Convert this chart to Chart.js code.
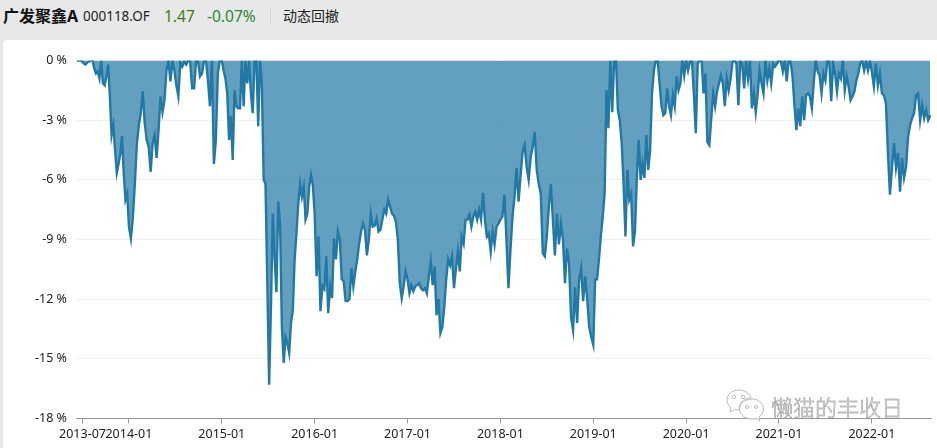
<!DOCTYPE html>
<html>
<head>
<meta charset="utf-8">
<script src="https://cdn.jsdelivr.net/npm/chart.js@4"></script>
<style>
  html, body { margin: 0; padding: 0; width: 937px; height: 448px; overflow: hidden; background: #e8e8e8; }
  body { position: relative; font-family: "Noto Sans", "Noto Sans CJK SC", sans-serif; }
  #head span { position: absolute; top: 5px; line-height: 22px; white-space: nowrap; color: #222; }
  #card { position: absolute; left: 3px; top: 40px; width: 940px; height: 420px; background: #fff; border-radius: 4px; }
  #wrap { position: absolute; left: 0; top: 0; width: 937px; height: 448px; }
  #mark { position: absolute; left: 771px; top: 388px; font: 22px/36px "Noto Sans CJK SC", sans-serif; font-weight: 300; color: #fff;
          -webkit-text-stroke: 0.5px #888; white-space: nowrap; }
  #icon { position: absolute; left: 725px; top: 389px; }
</style>
</head>
<body>
<div id="card"></div>
<div id="head">
  <span style="left:3px;font-size:16px;font-weight:bold;color:#111">广发聚鑫A</span>
  <span style="left:83px;font-size:13.5px">000118.OF</span>
  <span style="left:164px;font-size:15.5px;color:#3d7d16">1.47</span>
  <span style="left:207px;font-size:15.5px;color:#1f8a36">-0.07%</span>
  <span style="left:270px;top:8px;width:1px;height:16px;background:#d4d4d4"></span>
  <span style="left:283px;font-size:14px">动态回撤</span>
</div>
<div id="wrap"><canvas id="chart" width="937" height="448"></canvas></div>
<svg id="icon" width="40" height="34" viewBox="0 0 40 34" fill="#fff" stroke="#aaa" stroke-width="0.8">
  <path d="M14 1C7 1 2 5.500 2 11c0 3 1.500 5.500 4 7.500L5 23l5-2.500c1.500.4 3 .6 4.500.5C13 14 19 9 26 9 24.500 4.500 20 1 14 1z"/>
  <path d="M27 10c-7 0-12.500 4.500-12.500 10S20 30 27 30c1.500 0 2.500-.2 4-.6l4 2.600-1-4c3-2 4.500-4.800 4.500-8C38.500 14.500 33.500 10 27 10z"/>
  <circle cx="9" cy="8" r="1.700"/><circle cx="18" cy="8" r="1.700"/>
  <circle cx="22" cy="18" r="1.500"/><circle cx="31" cy="18" r="1.500"/>
</svg>
<div id="mark">懒猫的丰收日</div>
<script>
// drawdown in %, one list per calendar year
var dd2013 = [0,0,0,-0.05,-0.15,-0.2,-0.1,-0.05,0,0,-0.4,-0.65,-0.55,-0.9,0,-1.15,-1.25,-0.8,-0.2,-1.8,-3.75,-3.25,-4.5,-5.65,-5.2,-4.7,-3.8,-5.65,-7,-6.7];
var dd2014 = [-8.35,-8.95,-7.85,-6.2,-4.2,-3.25,-2.65,-1.55,-3.15,-4,-4.35,-5.6,-4.15,-3.75,-4.9,-3.5,-1.8,-2.6,-2,-0.5,0,-1.05,-0.05,-0.5,-1.25,-1.8,-0.1,-0.3,-0.05,-0.2,0,-0.05,-1.4,-1.4,0,-0.05,-0.8,-0.65,0,0,-1,-2.3,0,-5.2,-4,-0.65,0];
var dd2015 = [0,-0.5,-0.9,-1.65,-4,-2.8,-5,-1.5,-2.3,-2.4,-2.4,0,-2.3,0,-1.15,0,-1.65,-2.65,0,0,-3.3,0,-1.15,-6,-6.2,-11.2,-16.3,-12.4,-7.7,-9.9,-11.65,-7.1,-8.2,-13.4,-15.2,-13.9,-14.2,-14.7,-13.2,-12.55,-10,-8.7,-7.2,-6.2,-6.85,-6.35,-8,-7.7,-6.35,-5.75,-6.25];
var dd2016 = [-7.7,-10.85,-8.85,-12.6,-11.35,-11.5,-9.85,-12.7,-11.35,-11.95,-8.95,-10,-8.6,-9,-11,-11.1,-12.1,-12.1,-12,-10.45,-11.35,-10.6,-10,-9.2,-8.6,-8.2,-8.5,-9.8,-9,-7.7,-8.35,-8.3,-7.95,-8.6,-8.5,-8,-7.5,-7.7,-7,-7.35,-7.7,-7.8,-8.1,-9,-11.2,-11.95,-11.35,-10.6];
var dd2017 = [-11,-11.7,-11.3,-11.6,-11.35,-11.3,-11.2,-11.45,-11.55,-11.45,-11.7,-10.85,-10.1,-11.3,-10.35,-12.8,-12,-13.7,-13.4,-12.4,-11,-10,-10.3,-9.85,-11.45,-10.5,-9.6,-10.6,-8.85,-9.2,-8,-8,-7.75,-8.35,-7.85,-7.6,-8,-7.5,-8,-6.65,-8,-8.85,-8.7,-9.6,-8.6,-9.25,-8.35,-8.2];
var dd2018 = [-8,-7.85,-6.75,-9,-11.45,-9.5,-7.85,-6.85,-5.4,-7.1,-5.8,-4.6,-4.25,-5.35,-6,-4.85,-4.35,-3.6,-5.5,-6.2,-6.7,-9.7,-9.85,-8.85,-7.35,-6.2,-8,-9.8,-7.7,-9.25,-8.2,-9,-11.2,-9.45,-10.2,-12.9,-13.55,-11.4,-13.2,-11,-10.45,-12.1,-10.85,-12,-13.4,-13.9];
var dd2019 = [-14.3,-11,-11,-10,-8.85,-7.85,-6.7,-1.5,-3.4,0,-2.6,-0.05,0,-2.5,-3,-4.15,-6.2,-8.85,-5.5,-7,-6.7,-9.35,-8.6,-5.9,-4,-6,-5.2,-5.9,-3.75,-5.5,-4.5,-1.65,-0.5,0,0,-1.15,-2.25,-2.75,-2.65,-1.4,-2.3,-2.75,-1.75,-2.3,-0.8,-1.5,-1.15,0,-0.75];
var dd2020 = [0,-0.5,-0.05,0,-1.65,-3.65,-0.15,0,0,-1.65,-0.65,-4.1,-4.25,-2.9,-1.65,-2.3,-1.55,-1.15,-0.75,-1.15,-2.3,-0.9,-1.5,-0.9,-0.05,0,-0.15,-2.25,-0.05,-0.15,-1.4,0,-0.9,0,-2.4,-1.65,-2.6,-1.65,-0.5,-1.15,-1.65,0,-1,-0.4,-1.15,-0.15,-0.3,-0.15];
var dd2021 = [0,-0.05,-0.55,0,-1.05,0,-0.05,-0.8,-2.25,-3.5,-2.4,-3.3,-1.8,-3,-1.75,-1.65,-1.8,-2.4,-1.05,0,-0.55,-0.75,-1.65,-0.65,-1,0,-0.05,-2.05,-0.15,-0.65,-1.55,-0.65,-0.9,0,-1.5,-0.8,-1.3,-2,-1.8,-1.55,-1,-0.65,-0.15,0,-0.5,-0.05,-0.5,0];
var dd2022 = [-0.55,-1.3,-0.15,-1.25,-0.65,-1.65,-1.75,-2.15,-4.65,-6.75,-5.4,-4.15,-5.4,-4.65,-6.6,-4.9,-5.9,-5.35,-3.85,-3.25,-2.9,-2.65,-1.75,-1.65,-3,-2.25,-2.9,-2.5,-3,-2.75];

var tickYears = [2013.5, 2014, 2015, 2016, 2017, 2018, 2019, 2020, 2021, 2022];
var tickLabels = ['2013-07', '2014-01', '2015-01', '2016-01', '2017-01', '2018-01', '2019-01', '2020-01', '2021-01', '2022-01'];

var points = [];
function addSpan(from, to, list) {
    list.forEach(function (v, i) {
        points.push({ x: from + (to - from) * i / list.length, y: v });
    });
}
addSpan(2013.44, 2014, dd2013);
addSpan(2014, 2015, dd2014);
addSpan(2015, 2016, dd2015);
addSpan(2016, 2017, dd2016);
addSpan(2017, 2018, dd2017);
addSpan(2018, 2019, dd2018);
addSpan(2019, 2020, dd2019);
addSpan(2020, 2021, dd2020);
addSpan(2021, 2022, dd2021);
addSpan(2022, 2022.65, dd2022);

var font = { family: '"Noto Sans", sans-serif', size: 12.5 };

new Chart(document.getElementById('chart').getContext('2d'), {
    type: 'line',
    data: {
        datasets: [{
            data: points,
            borderColor: '#2279a5',
            backgroundColor: 'rgba(33,120,165,0.7)',
            borderWidth: 2.4,
            pointRadius: 0,
            tension: 0,
            fill: 'origin'
        }]
    },
    options: {
        responsive: false,
        animation: false,
        devicePixelRatio: 1,
        layout: { padding: { top: 60.5, right: 6 } },
        plugins: { legend: { display: false }, tooltip: { enabled: false } },
        scales: {
            x: {
                type: 'linear',
                min: 2013.43,
                max: 2022.637,
                afterBuildTicks: function (axis) {
                    axis.ticks = tickYears.map(function (v) { return { value: v }; });
                },
                afterFit: function (axis) { axis.height = 29.5; },
                grid: { drawOnChartArea: false, tickLength: 5, color: '#999' },
                border: { color: '#999' },
                ticks: {
                    autoSkip: false,
                    maxRotation: 0,
                    padding: 3,
                    color: '#222',
                    font: font,
                    callback: function (v) { return tickLabels[tickYears.indexOf(v)]; }
                }
            },
            y: {
                min: -18,
                max: 0,
                afterFit: function (axis) { axis.width = 76; },
                grid: { color: '#f0f0f6', drawTicks: false },
                border: { display: false },
                ticks: {
                    stepSize: 3,
                    padding: 9,
                    color: '#222',
                    font: font,
                    callback: function (v) { return v + ' %'; }
                }
            }
        }
    }
});
</script>
</body>
</html>
